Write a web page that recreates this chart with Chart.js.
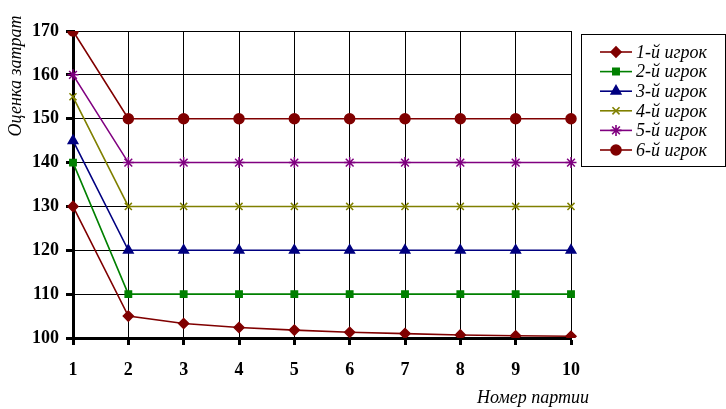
<!DOCTYPE html>
<html>
<head>
<meta charset="utf-8">
<script src="https://cdn.jsdelivr.net/npm/chart.js@4"></script>
<style>
  html, body { margin: 0; padding: 0; background: #fff; }
  #wrap { width: 726px; height: 409px; }
</style>
</head>
<body>
<div id="wrap"><canvas id="chart"></canvas></div>
<script>
const partii = ['1', '2', '3', '4', '5', '6', '7', '8', '9', '10'];

const igrok1 = [130, 105, 103.3, 102.4, 101.8, 101.3, 101.0, 100.7, 100.5, 100.4];
const igrok2 = [140, 110, 110, 110, 110, 110, 110, 110, 110, 110];
const igrok3 = [145, 120, 120, 120, 120, 120, 120, 120, 120, 120];
const igrok4 = [155, 130, 130, 130, 130, 130, 130, 130, 130, 130];
const igrok5 = [160, 140, 140, 140, 140, 140, 140, 140, 140, 140];
const igrok6 = [170, 150, 150, 150, 150, 150, 150, 150, 150, 150];

const names = ['1-й игрок', '2-й игрок', '3-й игрок', '4-й игрок', '5-й игрок', '6-й игрок'];
const yTicks = [100, 110, 120, 130, 140, 150, 160, 170];

const serif = '"Liberation Serif", "DejaVu Serif", serif';

const styles = [
    { color: '#800000', point: 'rectRot', radius: 5 },
    { color: '#008000', point: 'rect', radius: 4.5 },
    { color: '#000080', point: 'triangle', radius: 5.5 },
    { color: '#808000', point: 'crossRot', radius: 5 },
    { color: '#800080', point: 'star', radius: 5.5 },
    { color: '#800000', point: 'circle', radius: 5 }
];

const allSeries = [igrok1, igrok2, igrok3, igrok4, igrok5, igrok6];

const datasets = allSeries.map((values, i) => ({
    label: names[i],
    data: values,
    borderColor: styles[i].color,
    backgroundColor: styles[i].color,
    borderWidth: 1.6,
    pointStyle: styles[i].point,
    pointRadius: styles[i].radius,
    pointBorderWidth: 1.5,
    pointBackgroundColor: styles[i].color,
    pointBorderColor: styles[i].color,
    tension: 0
}));

// titles and legend box drawn by hand, to sit where the original has them
const extras = {
    id: 'extras',
    afterDraw(chart) {
        const ctx = chart.ctx;
        ctx.save();
        ctx.fillStyle = '#000';
        ctx.font = 'italic 18px ' + serif;

        ctx.save();
        ctx.translate(16, 76);
        ctx.rotate(-Math.PI / 2);
        ctx.textAlign = 'center';
        ctx.textBaseline = 'middle';
        ctx.fillText('Оценка затрат', 0, 0);
        ctx.restore();

        ctx.textAlign = 'right';
        ctx.textBaseline = 'alphabetic';
        ctx.fillText('Номер партии', 589, 403);

        // legend
        const bx = 581.5, by = 34.5, bw = 144, bh = 132;
        ctx.strokeStyle = '#000';
        ctx.lineWidth = 1;
        ctx.strokeRect(bx, by, bw, bh);

        ctx.textAlign = 'left';
        ctx.textBaseline = 'middle';
        names.forEach((name, i) => {
            const y = 52 + i * 19.6;
            const st = styles[i];
            ctx.strokeStyle = st.color;
            ctx.fillStyle = st.color;
            ctx.lineWidth = 1.6;
            ctx.beginPath();
            ctx.moveTo(600, y);
            ctx.lineTo(632, y);
            ctx.stroke();
            Chart.helpers.drawPoint(ctx, {
                pointStyle: st.point,
                radius: st.radius,
                rotation: 0,
                borderWidth: 1.5
            }, 616, y);
            ctx.fillStyle = '#000';
            ctx.fillText(name, 636, y + 1);
        });
        ctx.restore();
    }
};

new Chart(document.getElementById('chart'), {
    type: 'line',
    data: { labels: partii, datasets: datasets },
    options: {
        responsive: true,
        maintainAspectRatio: false,
        animation: false,
        layout: { padding: { top: 31, right: 155, left: 0, bottom: 0 } },
        plugins: {
            legend: { display: false },
            tooltip: { enabled: false }
        },
        scales: {
            x: {
                offset: false,
                grid: {
                    color: '#000',
                    lineWidth: 1,
                    tickLength: 7,
                    tickWidth: 3,
                    tickColor: '#000'
                },
                border: { color: '#000', width: 3 },
                ticks: {
                    color: '#000',
                    padding: 15,
                    maxRotation: 0,
                    font: { family: serif, size: 18, weight: 'bold' }
                },
                afterFit(scale) { scale.height = 71; }
            },
            y: {
                min: 100,
                max: 170,
                afterBuildTicks(scale) {
                    scale.ticks = yTicks.map(v => ({ value: v }));
                },
                grid: {
                    color: '#000',
                    lineWidth: 1,
                    tickLength: 7,
                    tickWidth: 3,
                    tickColor: '#000'
                },
                border: { color: '#000', width: 3 },
                ticks: {
                    color: '#000',
                    padding: 7,
                    font: { family: serif, size: 18, weight: 'bold' }
                },
                afterFit(scale) { scale.width = 73; }
            }
        }
    },
    plugins: [extras]
});
</script>
</body>
</html>
